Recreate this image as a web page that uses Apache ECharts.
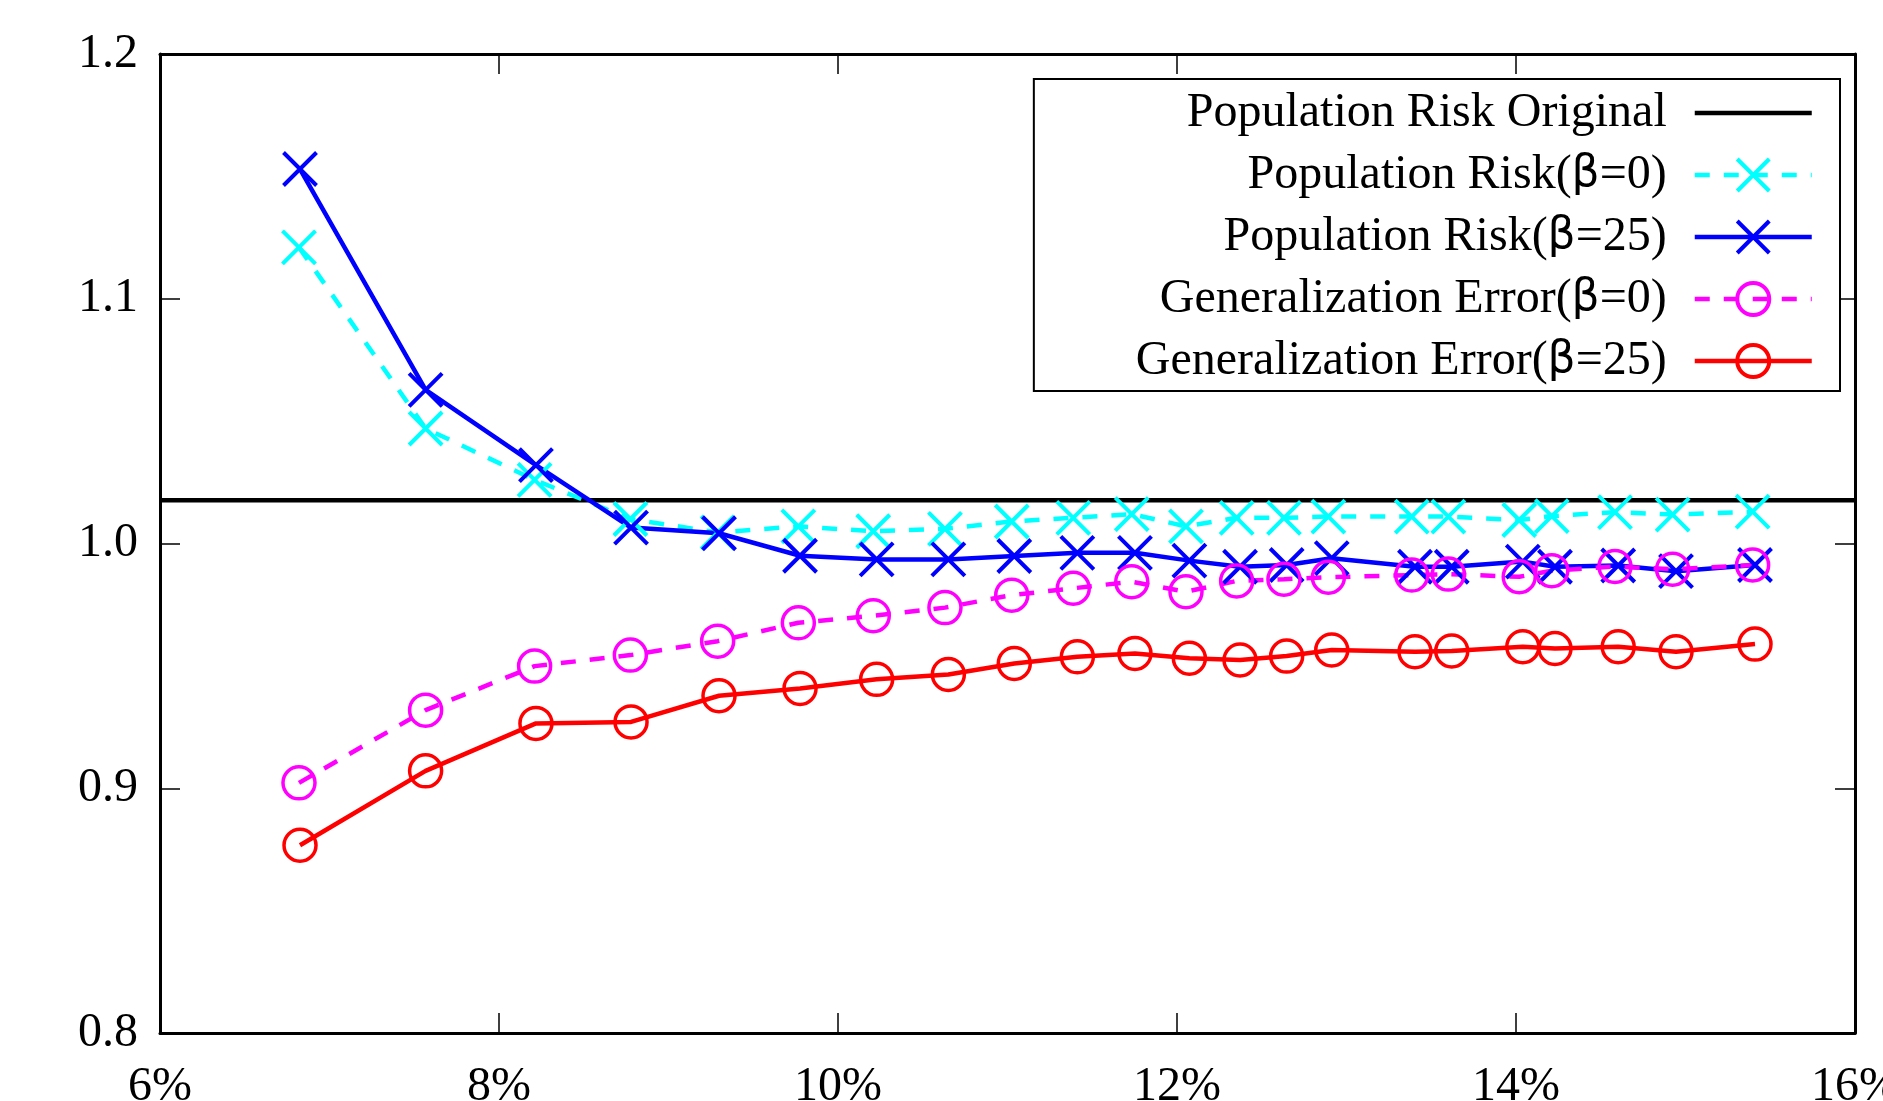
<!DOCTYPE html>
<html>
<head>
<meta charset="utf-8">
<script src="https://cdn.jsdelivr.net/npm/echarts@6/dist/echarts.min.js"></script>
<style>
  html, body { margin: 0; padding: 0; background: #fff; }
  #chart { width: 1883px; height: 1101px; }
</style>
</head>
<body>
<div id="chart"></div>
<script>
// ---- data ----
const seriesNames = [
  'Population Risk Original',
  'Population Risk(β=0)',
  'Population Risk(β=25)',
  'Generalization Error(β=0)',
  'Generalization Error(β=25)'
];
const originalRisk = 1.0177;
const xRange = [6, 16];

// x positions (percent) for the β=0 runs
const xBeta0 = [6.82, 7.567, 8.21, 8.775, 9.29, 9.766, 10.208, 10.631, 11.025, 11.388, 11.733,
                12.053, 12.352, 12.631, 12.893, 13.385, 13.601, 14.019, 14.211, 14.584, 14.924, 15.396];
// x positions (percent) for the β=25 runs
const xBeta25 = [6.826, 7.567, 8.218, 8.779, 9.298, 9.776, 10.228, 10.651, 11.04, 11.412, 11.752,
                 12.073, 12.372, 12.647, 12.913, 13.404, 13.621, 14.04, 14.23, 14.603, 14.944, 15.41];

const popRiskBeta0 = [1.121, 1.047, 1.026, 1.010, 1.0045, 1.007, 1.005, 1.006, 1.009, 1.0105, 1.012,
                      1.007, 1.0105, 1.0105, 1.011, 1.011, 1.011, 1.0096, 1.0112, 1.0128, 1.0118, 1.013];
const popRiskBeta25 = [1.153, 1.0628, 1.032, 1.0065, 1.0042, 0.995, 0.9935, 0.9935, 0.9949, 0.9962, 0.9962,
                       0.993, 0.9905, 0.9912, 0.994, 0.9905, 0.9905, 0.9926, 0.9905, 0.991, 0.9887, 0.9912];
const genErrBeta0 = [0.9022, 0.9319, 0.9499, 0.9544, 0.9601, 0.9676, 0.9705, 0.9738, 0.9789, 0.9817, 0.9844,
                     0.9803, 0.9847, 0.9854, 0.9862, 0.9871, 0.9875, 0.9864, 0.9889, 0.9906, 0.9895, 0.9912];
const genErrBeta25 = [0.8767, 0.9071, 0.9265, 0.9271, 0.9378, 0.9408, 0.9445, 0.9465, 0.951, 0.9537, 0.9551,
                      0.9531, 0.9524, 0.954, 0.9565, 0.9558, 0.9561, 0.9578, 0.9571, 0.9578, 0.9558, 0.9589];

const xTicks = { min: 6, max: 16, interval: 2 };
const yTicks = { min: 0.8, max: 1.2, interval: 0.1 };

// ---- helpers ----
const zip = (xs, ys) => xs.map((x, i) => [x, ys[i]]);
const FONT = 'Liberation Serif';
const X_SYMBOL = 'path://M0,0L10,10M10,0L0,10';
const LINE_W = 4.5;
const DASH = [15, 14];

const tickStyle = { inside: true, length: 20, lineStyle: { color: '#000', width: 1.5 } };
const lineAxis = { show: true, onZero: false, lineStyle: { color: '#000', width: 3 } };

function xAxisDef(position, showLabel) {
  return {
    type: 'value', position: position, min: xTicks.min, max: xTicks.max, interval: xTicks.interval,
    splitLine: { show: false }, axisLine: lineAxis, axisTick: tickStyle,
    axisLabel: showLabel ? { formatter: '{value}%', margin: 30, fontSize: 48, fontFamily: FONT, color: '#000' } : { show: false }
  };
}
function yAxisDef(position, showLabel) {
  return {
    type: 'value', position: position, min: yTicks.min, max: yTicks.max, interval: yTicks.interval,
    splitLine: { show: false }, axisLine: lineAxis, axisTick: tickStyle,
    axisLabel: showLabel ? { formatter: v => v.toFixed(1), margin: 22, fontSize: 48, fontFamily: FONT, color: '#000' } : { show: false }
  };
}

function markerSeries(name, color, xs, ys, symbol, dashed) {
  return {
    name: name, type: 'line', xAxisIndex: 0, yAxisIndex: 0,
    data: zip(xs, ys),
    symbol: symbol, symbolSize: symbol === 'circle' ? 32 : 33,
    showSymbol: true,
    color: color,
    itemStyle: { color: symbol === 'circle' ? 'rgba(0,0,0,0)' : color, borderColor: color, borderWidth: symbol === 'circle' ? 3.5 : 4 },
    lineStyle: { color: color, width: LINE_W, type: dashed ? DASH : 'solid' },
    emphasis: { disabled: true },
    animation: false
  };
}

const option = {
  animation: false,
  backgroundColor: '#fff',
  grid: { left: 160, right: 28, top: 54, bottom: 68, outerBoundsMode: 'none', containLabel: false },
  xAxis: [xAxisDef('bottom', true), xAxisDef('top', false)],
  yAxis: [yAxisDef('left', true), yAxisDef('right', false)],
  legend: {
    data: seriesNames.map((n, i) => i === 0 ? { name: n, itemStyle: { opacity: 0 } } : { name: n }),
    orient: 'vertical', align: 'right',
    right: 43, top: 79,
    itemWidth: 117, itemHeight: 40, itemGap: 14,
    padding: [10, 26, 6, 102],
    backgroundColor: '#fff', borderColor: '#000', borderWidth: 2, borderRadius: 0,
    lineStyle: { width: LINE_W },
    itemStyle: { borderWidth: 4 },
    formatter: name => name.replace('β', '{g|β}'),
    textStyle: {
      fontFamily: FONT, fontSize: 48, color: '#000', padding: [0, 23, 0, 0],
      rich: { g: { fontFamily: 'DejaVu Sans', fontSize: 44, color: '#000' } }
    },
    selectedMode: false
  },
  series: [
    {
      name: seriesNames[0], type: 'line', xAxisIndex: 0, yAxisIndex: 0,
      data: [[xRange[0], originalRisk], [xRange[1], originalRisk]],
      symbol: 'none', color: '#000',
      lineStyle: { color: '#000', width: LINE_W }, emphasis: { disabled: true }
    },
    markerSeries(seriesNames[1], '#00ffff', xBeta0, popRiskBeta0, X_SYMBOL, true),
    markerSeries(seriesNames[2], '#0000ff', xBeta25, popRiskBeta25, X_SYMBOL, false),
    markerSeries(seriesNames[3], '#ff00ff', xBeta0, genErrBeta0, 'circle', true),
    markerSeries(seriesNames[4], '#ff0000', xBeta25, genErrBeta25, 'circle', false)
  ]
};

const chart = echarts.init(document.getElementById('chart'), null, { renderer: 'canvas' });
chart.setOption(option);
</script>
</body>
</html>
